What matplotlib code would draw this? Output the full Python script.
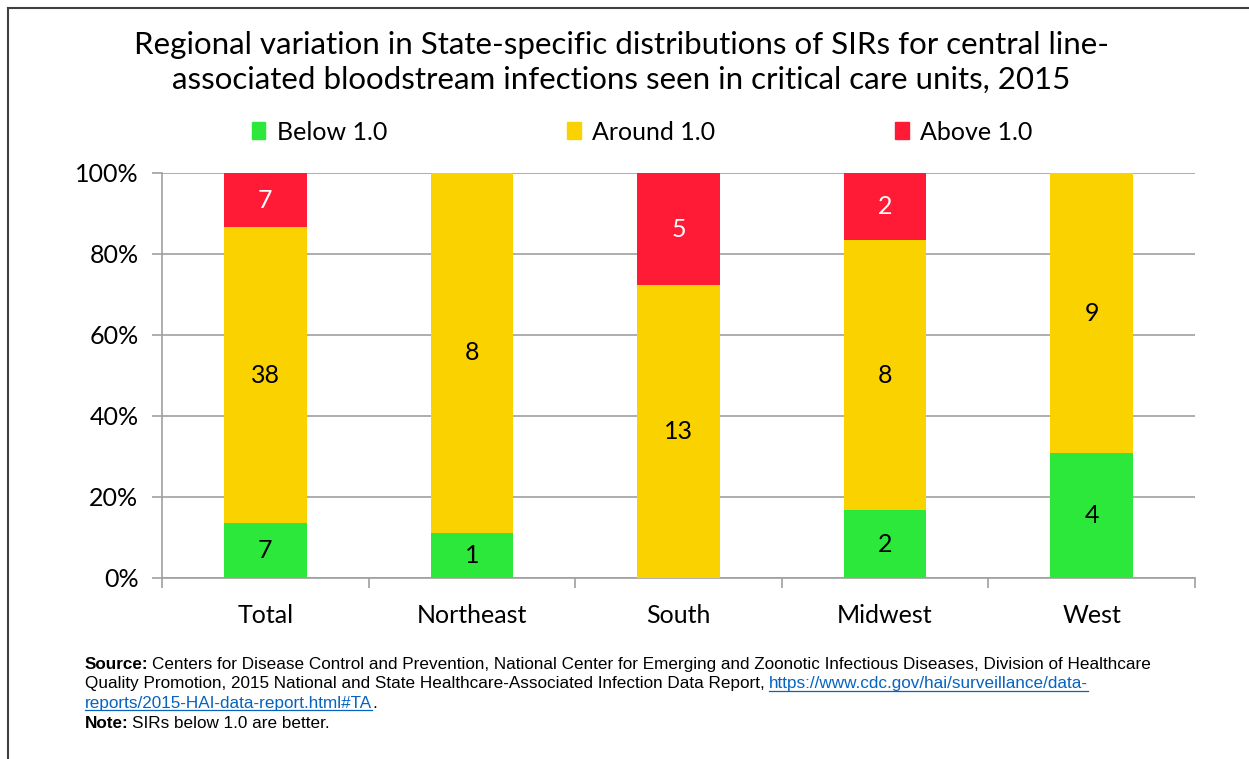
import matplotlib
matplotlib.use("Agg")
import matplotlib.pyplot as plt
import numpy as np
from matplotlib.lines import Line2D
from matplotlib.patches import Rectangle
from matplotlib import font_manager as fm

regions = ["Total", "Northeast", "South", "Midwest", "West"]
below = [7, 1, 0, 2, 4]
around = [38, 8, 13, 8, 9]
above = [7, 0, 5, 2, 0]
series_names = ["Below 1.0", "Around 1.0", "Above 1.0"]
colors = ["#2BE83B", "#FAD200", "#FF1A35"]
label_colors = ["black", "black", "white"]
yticks = [0, 20, 40, 60, 80, 100]

title = ("Regional variation in State-specific distributions of SIRs for central line-\n"
         "associated bloodstream infections seen in critical care units, 2015")

main_font = ["Lato", "DejaVu Sans"]

names = {f.name for f in fm.fontManager.ttflist}
if "Liberation Sans Narrow" in names:
    foot_kw = dict(family=["Liberation Sans Narrow"], fontsize=12.5)
else:
    foot_kw = dict(family=["Liberation Sans", "DejaVu Sans"], fontsize=12.3)

fig = plt.figure(figsize=(12.49, 7.59), dpi=100)
ax = fig.add_axes([0.1297, 0.2385, 0.827, 0.5336])

counts = np.array([below, around, above], dtype=float)
totals = counts.sum(axis=0)
pcts = counts / totals * 100
x = np.arange(len(regions))
bottom = np.zeros(len(regions))
for i in range(3):
    ax.bar(x, pcts[i], bottom=bottom, width=0.4, color=colors[i], zorder=3,
           label=series_names[i])
    for j in range(len(regions)):
        if counts[i, j] > 0:
            ax.text(x[j], bottom[j] + pcts[i, j] / 2, f"{int(counts[i, j])}",
                    ha="center", va="center", fontsize=18, color=label_colors[i],
                    family=main_font, zorder=4)
    bottom += pcts[i]

ax.set_xlim(-0.5, len(regions) - 0.5)
ax.set_ylim(0, 100)
ax.set_yticks(yticks)
ax.set_yticklabels([f"{v}%" for v in yticks], family=main_font, fontsize=18)
ax.set_xticks(x)
ax.set_xticklabels(regions, family=main_font, fontsize=18)
ax.set_xticks(np.arange(-0.5, len(regions), 1), minor=True)
ax.tick_params(axis="x", which="major", length=0, pad=19)
ax.tick_params(axis="x", which="minor", length=7, color="#A0A0A0", width=1.2)
ax.tick_params(axis="y", length=7, color="#A0A0A0", width=1.2, pad=10)
ax.yaxis.grid(True, color="#A0A0A0", linewidth=1.2, zorder=0)
ax.set_axisbelow(True)
for s in ["top", "right"]:
    ax.spines[s].set_visible(False)
for s in ["left", "bottom"]:
    ax.spines[s].set_color("#A0A0A0")
    ax.spines[s].set_linewidth(1.2)

fig.text(0.4975, 0.918, title, ha="center", va="center", fontsize=22.5,
         family=main_font, linespacing=1.27)

handles = [Rectangle((0, 0), 1, 1, color=c) for c in colors]
leg = fig.legend(handles, series_names, loc="center", bbox_to_anchor=(0.514, 0.826),
                 ncol=3, frameon=False, prop={"family": main_font, "size": 18},
                 handlelength=0.55, handleheight=0.65, handletextpad=0.45,
                 columnspacing=7.2)

fig.canvas.draw()
r = fig.canvas.get_renderer()
W = fig.bbox.width
H = fig.bbox.height


def put_line(parts, x0, y):
    xx = x0
    for txt, kw, gap in parts:
        xx += gap / W
        t = fig.text(xx, y, txt, va="center", **foot_kw, **kw)
        bb = t.get_window_extent(r)
        if kw.get("color") == "#0563C1":
            fig.add_artist(Line2D([bb.x0 / W, bb.x1 / W], [bb.y0 / H + 0.001] * 2,
                                  color="#0563C1", linewidth=0.9, transform=fig.transFigure))
        xx = bb.x1 / W


link = dict(color="#0563C1")
fy = 0.125
lh = 0.026
x0 = 0.068
put_line([("Source:", dict(weight="bold"), 0),
          ("Centers for Disease Control and Prevention, National Center for Emerging and Zoonotic Infectious Diseases, Division of Healthcare", {}, 3)],
         x0, fy)
put_line([("Quality Promotion, 2015 National and State Healthcare-Associated Infection Data Report,", {}, 0),
          ("https://www.cdc.gov/hai/surveillance/data-", link, 4)], x0, fy - lh)
put_line([("reports/2015-HAI-data-report.html#TA", link, 0), (".", {}, 0)], x0, fy - 2 * lh)
put_line([("Note:", dict(weight="bold"), 0), ("SIRs below 1.0 are better.", {}, 3)], x0, fy - 3 * lh)

fig.add_artist(Line2D([0.0065, 1.0], [0.9895, 0.9895], color="#404040", linewidth=1.5,
                      transform=fig.transFigure))
fig.add_artist(Line2D([0.0065, 0.0065], [0.0, 0.9895], color="#404040", linewidth=1.5,
                      transform=fig.transFigure))

fig.savefig("out.png", dpi=100)
